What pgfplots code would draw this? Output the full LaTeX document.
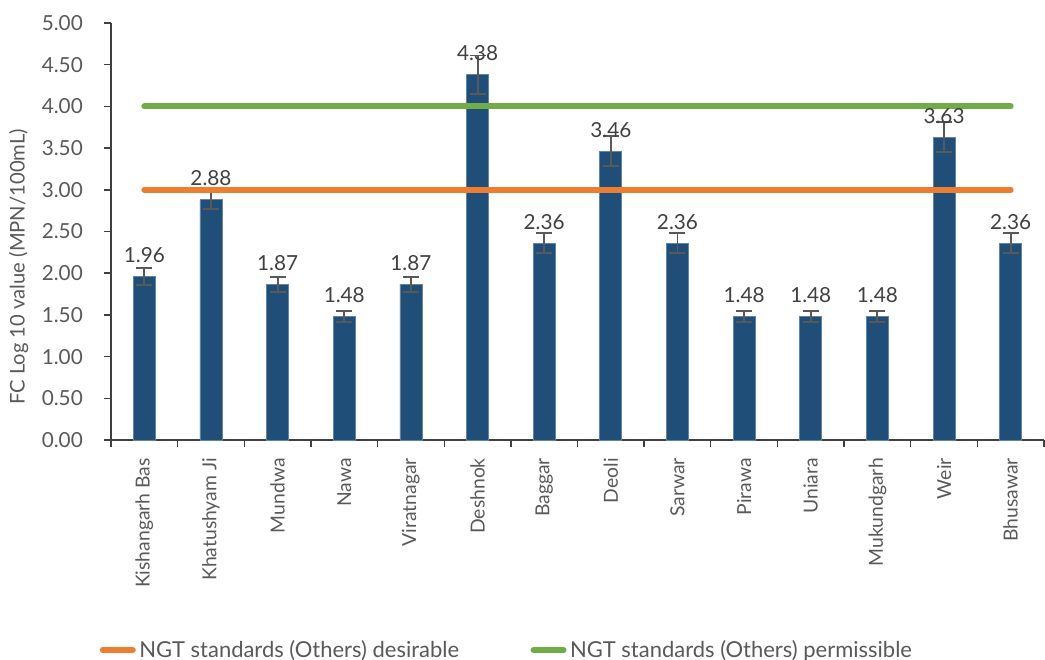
\documentclass[border=0pt]{standalone}
\usepackage{fontspec}
\setmainfont{Lato}
\usepackage{pgfplots}
\pgfplotsset{compat=1.18}
\definecolor{barblue}{HTML}{1F4E79}
\definecolor{ngtorange}{HTML}{ED7D31}
\definecolor{ngtgreen}{HTML}{70AD47}
\definecolor{txtgray}{HTML}{595959}
\definecolor{lblgray}{HTML}{404040}
\definecolor{errgray}{HTML}{595959}
\begin{document}
\begin{tikzpicture}
\begin{axis}[
  name=ax,
  scale only axis,
  width=18.66cm, height=8.34cm,
  xmin=-0.5, xmax=13.5,
  ymin=0, ymax=5,
  axis x line*=bottom, axis y line*=left,
  axis line style={draw=lblgray, line width=0.8pt},
  ytick={0,0.5,1,1.5,2,2.5,3,3.5,4,4.5,5},
  yticklabel style={xshift=-0.3cm, /pgf/number format/.cd, fixed, fixed zerofill, precision=2, assume math mode=true},
  xtick={-0.5,0.5,...,13.5},
  xticklabels={},
  extra x ticks={0,1,2,3,4,5,6,7,8,9,10,11,12,13},
  extra x tick labels={Kishangarh Bas, Khatushyam Ji, Mundwa, Nawa, Viratnagar, Deshnok, Baggar, Deoli, Sarwar, Pirawa, Uniara, Mukundgarh, Weir, Bhusawar},
  extra x tick style={tick style={draw=none}, tick label style={rotate=90, anchor=east, xshift=-0.1cm, font=\fontsize{11}{13}\selectfont}},
  tick align=outside,
  major tick length=0.14cm,
  tick style={draw=lblgray, line width=0.8pt},
  tick label style={font=\fontsize{11.8}{13}\selectfont, text=txtgray},
  ylabel={FC Log 10 value (MPN/100mL)},
  ylabel style={font=\fontsize{11.5}{13}\selectfont, text=txtgray, at={(axis description cs:-0.099,0.415)}, anchor=center},
  clip=false,
  legend style={at={(axis description cs:-0.012,-0.504)}, anchor=west, draw=none, fill=none, inner sep=0pt, outer sep=0pt,
    legend columns=2, font=\fontsize{12.5}{14}\selectfont, text=txtgray,
    /tikz/every even column/.append style={column sep=1.36cm}},
  legend cell align=left,
]
\addplot[ybar, bar width=0.44cm, fill=barblue, draw=barblue!70!white, line width=0.4pt,
  forget plot,
  nodes near coords,
  point meta=y,
  nodes near coords style={font=\fontsize{11.8}{13}\selectfont, text=lblgray, anchor=south, yshift=0.15cm,
    /pgf/number format/.cd, fixed, fixed zerofill, precision=2, assume math mode=true},
  error bars/.cd, y dir=both, y explicit,
  error bar style={draw=errgray, line width=1.1pt},
  error mark options={rotate=90, draw=errgray, mark size=0.16cm, line width=1.1pt}]
coordinates {
  (0,1.96) +- (0,0.10)
  (1,2.88) +- (0,0.11)
  (2,1.87) +- (0,0.09)
  (3,1.48) +- (0,0.07)
  (4,1.87) +- (0,0.09)
  (5,4.38) +- (0,0.23)
  (6,2.36) +- (0,0.12)
  (7,3.46) +- (0,0.18)
  (8,2.36) +- (0,0.12)
  (9,1.48) +- (0,0.07)
  (10,1.48) +- (0,0.07)
  (11,1.48) +- (0,0.07)
  (12,3.63) +- (0,0.18)
  (13,2.36) +- (0,0.12)
};
\addplot[draw=ngtorange, line width=0.12cm, line cap=round]
  coordinates {(0,3) (13,3)};
\addlegendentry{NGT standards (Others) desirable}
\addplot[draw=ngtgreen, line width=0.12cm, line cap=round]
  coordinates {(0,4) (13,4)};
\addlegendentry{NGT standards (Others) permissible}
\end{axis}
\pgfresetboundingbox
\path ([xshift=-2.22cm, yshift=-4.4cm]ax.south west) rectangle ([xshift=18.68cm, yshift=8.8cm]ax.south west);
\end{tikzpicture}
\end{document}
